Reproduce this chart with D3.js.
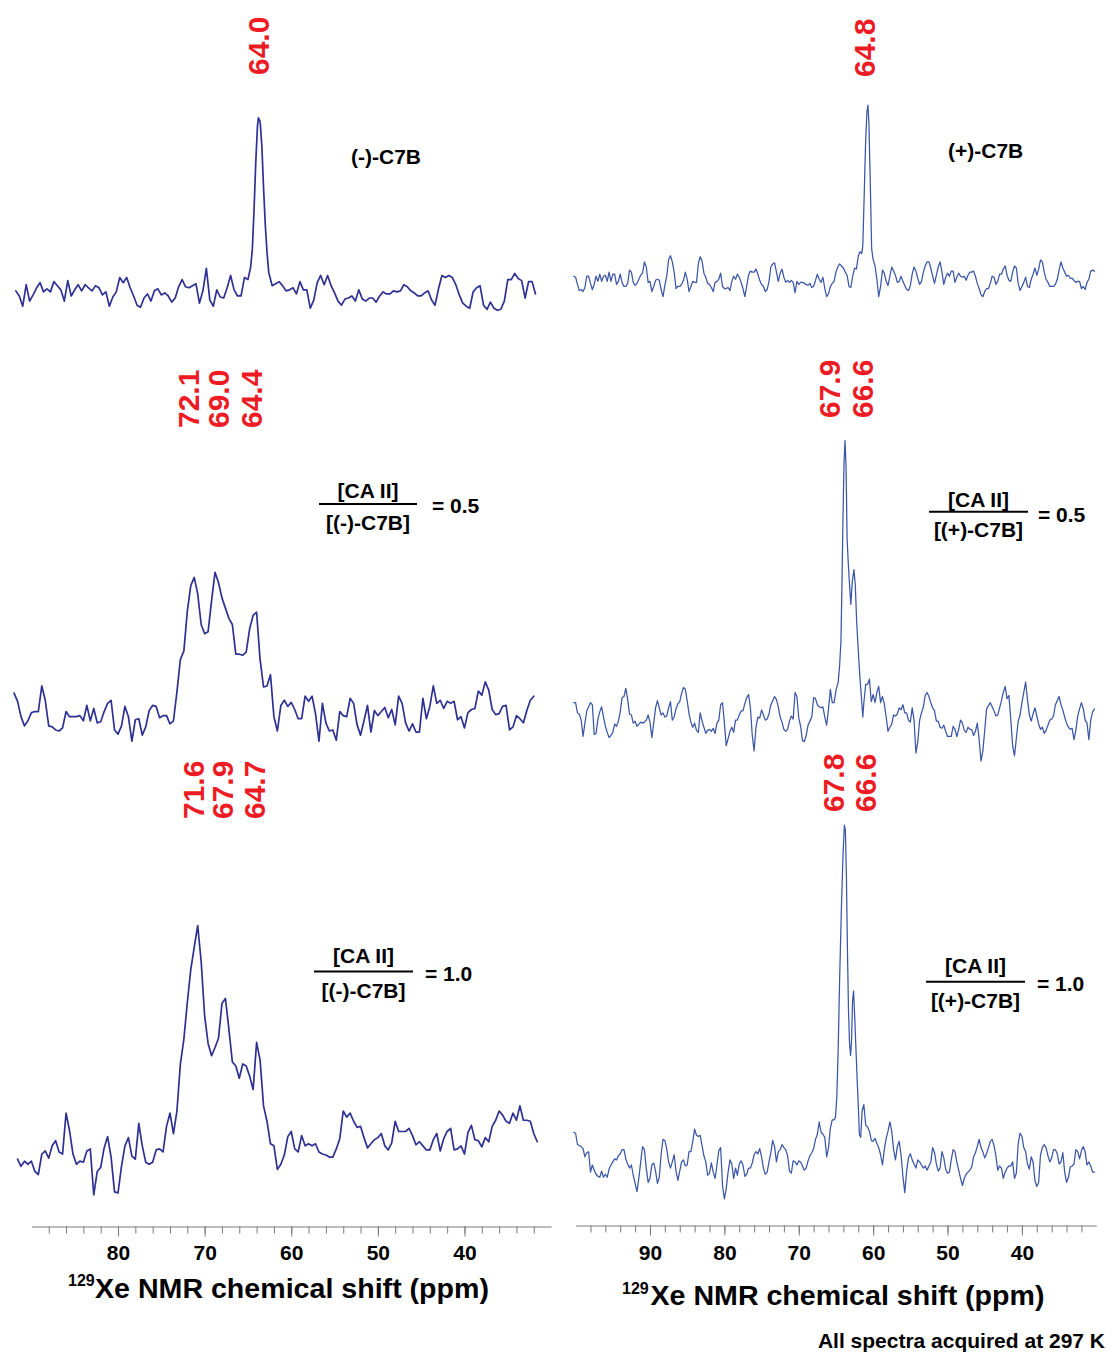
<!DOCTYPE html>
<html>
<head>
<meta charset="utf-8">
<script src="https://cdn.jsdelivr.net/npm/d3@7"></script>
<style>
  html, body { margin: 0; padding: 0; background: #ffffff; }
  svg { display: block; }
  text { font-family: "Liberation Sans", Arial, Helvetica, sans-serif; font-weight: bold; }
</style>
</head>
<body>
<svg id="chart" width="1112" height="1353"></svg>
<script>
// ===================== DATA =====================
// 129Xe NMR spectra, intensity in arbitrary units (0 = noise baseline).
// Each spectrum: regularly sampled points (start ppm, step ppm), optionally a second
// sample set offset by half a step, plus finer samples across the sharp peak.
const N = null;

// (-)-C7B alone
const TL_start = 91.8, TL_step = -0.4;
const TL_values = [2,-3,-13,8,-8,-2,5,10,1,4,
 1,11,7,3,-8,12,-3,3,8,2,
 8,5,2,7,5,-2,1,-13,-4,1,
 15,10,15,5,-3,-12,-14,-5,-1,-8,
 2,4,-2,0,-3,-9,-5,6,13,6,
 5,7,9,-10,2,24,-7,-13,3,-4,
 -5,5,17,3,-3,-3,15,13,N,N,
 N,N,N,N,7,9,11,7,2,3,
 5,-1,11,3,3,-15,-7,10,17,8,
 17,7,0,-8,-12,-6,-5,-3,-8,3,
 -6,-8,-5,-5,-9,-3,1,-1,-1,2,
 1,2,8,6,2,0,-3,-3,0,2,
 -7,-12,4,17,15,17,15,8,-2,-10,
 -13,-15,1,5,7,-12,-16,-9,-15,-17,
 -16,-8,13,13,19,14,12,-5,11,11,
 -1];
const TL_peak = [[64.69,25],[64.49,43],[64.30,80],[64.10,127],[63.90,163],[63.79,171],
 [63.59,167],[63.39,143],[63.20,103],[63.00,67],[62.80,40],[62.60,20]];

// (+)-C7B alone
const TR_start = 100.25, TR_step = -0.5;
const TR_values = [3,-5,-10,-8,3,-10,3,5,3,-2,
 -2,5,-2,-3,-7,9,-3,-4,4,17,
 -3,-12,-1,-1,-17,3,23,7,-7,-5,
 7,-12,-2,-3,22,6,-4,-8,-3,0,
 -7,-9,-11,3,5,-3,-17,4,7,10,
 -1,-7,-10,12,16,-2,10,-3,-3,-3,
 -2,-3,-4,-6,-8,-1,0,2,-17,-7,
 -2,12,13,7,-7,3,10,N,N,N,
 N,13,-17,9,-2,3,8,-3,3,-6,
 -11,5,8,-5,7,17,11,-4,12,7,
 2,3,8,2,3,3,4,7,3,-9,
 -17,-9,-4,2,-2,5,13,-1,7,11,
 -11,-3,-7,0,11,10,17,0,-7,-7,
 0,17,7,4,1,-3,-2,-7,-3,8,
 8];
const TR_start2 = 100.0;
const TR_values2 = [2,-11,-12,3,-4,-5,-2,-2,4,7,
 5,-5,5,-7,-4,7,-6,0,6,12,
 -2,-7,0,-10,-6,19,17,-9,-7,-1,
 0,-7,-3,15,18,2,-5,-12,-2,6,
 -9,-8,-2,0,2,-9,-7,8,7,5,
 -5,-12,-2,15,7,6,2,-1,-1,-13,
 -5,-3,-5,-4,-7,5,-3,-9,-14,-4,
 7,15,11,4,-8,11,N,N,N,N,
 N,0,-7,6,-6,12,4,-2,-2,-10,
 -6,12,1,-2,13,17,3,4,17,-5,
 6,8,-3,6,2,-1,7,8,-4,-15,
 -12,-9,3,-5,5,10,4,-2,13,-4,
 -7,2,-8,5,4,19,7,-3,-7,-5,
 9,11,3,1,-1,-2,-9,-10,0,9];
const TR_peak = [[61.99,23],[61.76,27],[61.53,25],[61.39,33],[61.21,80],[61.03,130],[60.84,163],
 [60.70,170],[60.57,153],[60.39,97],[60.20,30],[60.02,20],[59.83,15]];

// [CA II]/[(-)-C7B] = 0.5
const ML_start = 92.0, ML_step = -0.4;
const ML_values = [20,12,-3,-12,-7,1,2,2,27,13,
 -12,-13,-16,-17,-14,2,-3,-3,-3,-2,
 -7,8,-7,5,-9,-8,2,10,13,-16,
 -20,-12,7,-3,-27,-6,-5,-21,-13,3,
 8,7,-4,-2,-2,-10,-7,21,53,61,
 100,125,133,117,87,78,80,110,138,128,
 113,103,93,87,58,58,57,60,83,96,
 99,53,26,27,38,-3,-17,8,13,7,
 11,4,-5,-5,17,12,17,0,-27,10,
 -9,-17,-16,-26,2,-2,-3,15,10,-11,
 -21,-7,8,-18,3,-2,2,6,-4,4,
 -11,17,10,-9,-17,-10,-18,-18,15,-5,
 7,27,10,13,5,12,10,12,-6,-3,
 -14,1,4,5,22,18,31,23,4,-1,
 0,7,8,-16,-13,-2,-5,-9,3,13,
 17];

// [CA II]/[(+)-C7B] = 0.5
const MR_start = 100.25, MR_step = -0.5;
const MR_values = [17,7,0,-3,13,15,-13,8,3,-12,
 -15,-4,-1,22,31,6,-3,-6,-2,-2,
 5,-17,12,12,7,4,18,3,16,26,
 30,6,-7,-10,7,-7,-10,-11,-13,0,
 17,-25,-11,-12,0,9,16,25,-15,-7,
 2,5,1,15,23,13,-2,-11,-1,1,
 23,-6,-21,-5,3,21,13,13,-5,30,
 17,N,N,N,N,N,N,N,17,35,
 18,17,33,23,3,-7,5,6,10,7,
 0,12,-32,0,13,27,17,9,-1,-8,
 -11,-16,-6,-16,0,-10,-7,-9,-11,-19,
 -30,11,17,9,5,19,33,24,-25,-18,
 5,27,20,-1,12,-4,-7,-10,0,4,
 19,15,3,-7,-8,-10,11,11,-3,0,
 11];
const MR_start2 = 100.0;
const MR_values2 = [17,6,-16,9,17,-14,1,13,-6,-17,
 -12,-6,8,23,20,5,-1,-4,-3,0,
 -2,-3,19,5,3,12,0,11,18,32,
 19,-2,-3,-12,-1,-13,-9,-8,-3,15,
 -3,-18,-7,0,5,9,22,12,-30,3,
 10,0,6,19,20,3,-9,-9,4,27,
 2,-20,-15,-1,22,15,12,3,11,17,
 N,N,N,N,N,N,N,N,35,40,
 25,27,17,16,-11,-4,4,12,15,7,
 -2,0,-21,7,24,23,12,-1,-7,-5,
 -16,-16,-9,-9,-3,-12,-9,-15,-3,-40,
 -10,14,13,4,12,27,21,1,-35,-1,
 17,37,5,6,4,-9,-13,-5,1,15,
 23,10,-3,-9,-19,4,17,0,-19,8];
const MR_peak = [[64.97,30],[64.70,37],[64.51,53],[64.33,77],[64.19,133],[64.05,200],[63.91,253],
 [63.78,273],[63.64,247],[63.50,177],[63.32,150],[63.13,127],[63.00,113],[62.81,135],[62.58,147],
 [62.40,132],[62.22,97],[61.99,67],[61.76,40],[61.53,17],[61.39,3]];

// [CA II]/[(-)-C7B] = 1.0
const BL_start = 91.6, BL_step = -0.4;
const BL_values = [-10,-17,-12,-15,-12,-22,-25,-5,-2,-9,
 3,8,-3,-5,35,18,-5,-15,-12,-13,
 -2,0,-45,-22,-18,1,12,-8,-42,-43,
 -17,3,11,-7,-10,25,3,-13,-15,-13,
 -1,0,-3,22,35,15,37,83,107,143,
 175,197,218,183,130,103,91,99,108,142,
 147,117,85,81,69,83,81,71,58,104,
 87,42,27,5,3,-20,-15,-6,12,17,
 0,-3,13,3,5,3,5,-3,-5,-6,
 -8,-8,0,10,37,31,35,27,21,22,
 11,1,5,9,11,15,3,-1,6,27,
 17,17,17,20,13,4,7,3,-1,-1,
 9,15,-2,10,17,20,-1,0,3,-5,
 16,23,9,8,2,11,7,22,28,37,
 33,27,25,35,28,42,28,28,27,15,
 7];

// [CA II]/[(+)-C7B] = 1.0
const BR_start = 100.25, BR_step = -0.5;
const BR_values = [32,20,18,8,13,0,-9,-12,-12,-12,
 0,6,9,15,6,-3,-10,-26,3,15,
 -17,0,-6,-12,25,16,-3,10,-15,3,
 -1,13,23,29,29,9,-10,2,-13,14,
 -20,-23,5,-13,-10,4,-11,-3,2,13,
 16,-3,-7,12,18,13,20,15,-6,4,
 0,3,-5,4,12,25,42,30,8,36,
 44,N,N,N,N,N,N,N,59,37,
 24,26,17,0,26,42,15,18,10,-27,
 7,5,-3,3,-3,-5,3,12,-6,13,
 -4,-7,15,3,-13,-13,-7,-2,12,25,
 13,11,23,19,-5,-3,-7,-1,3,-8,
 31,17,1,8,-15,-17,17,17,3,15,
 11,3,-7,-12,-1,15,6,18,0,-1,
 -7];
const BR_start2 = 100.0;
const BR_values2 = [31,19,16,12,-7,-5,-11,-6,-9,-4,
 3,5,11,15,1,0,-18,-13,18,-3,
 -13,2,-18,11,24,3,3,-6,-6,5,
 0,13,35,28,19,3,-8,-7,0,17,
 -33,-7,1,-3,1,0,-9,-3,10,11,
 8,-9,3,24,3,15,17,9,-8,3,
 4,-1,-3,9,16,30,32,27,17,44,
 N,N,N,N,N,N,N,N,39,33,
 23,21,10,15,33,33,5,23,-11,-6,
 11,1,5,0,-1,-1,17,1,-3,7,
 -8,5,13,-5,-20,-9,-5,8,18,17,
 7,17,25,9,-1,-13,-3,-1,-13,21,
 28,13,-4,3,-21,10,20,9,7,15,
 1,12,-17,-2,1,13,14,13,3,-7];
const BR_peak = [[65.06,47],[64.88,67],[64.70,113],[64.51,180],[64.28,247],[64.05,303],[63.87,332],
 [63.73,327],[63.59,280],[63.46,213],[63.32,153],[63.18,120],[63.04,107],[62.91,120],[62.77,160],
 [62.63,170],[62.49,147],[62.31,113],[62.13,80],[61.99,57],[61.85,30],[61.67,27],[61.48,53]];

// Peak-position labels (ppm)
const TL_labels = ["64.0"];
const TR_labels = ["64.8"];
const ML_labels = ["72.1", "69.0", "64.4"];
const MR_labels = ["67.9", "66.6"];
const BL_labels = ["71.6", "67.9", "64.7"];
const BR_labels = ["67.8", "66.6"];

// Axis ticks
const leftMajorTicks = [80, 70, 60, 50, 40];
const rightMajorTicks = [90, 80, 70, 60, 50, 40];
const leftMinorTicks = [88,86,84,82,80,78,76,74,72,70,68,66,64,62,60,58,56,54,52,50,48,46,44,42,40,38,36,34,32];
const rightMinorTicks = [98,96,94,92,90,88,86,84,82,80,78,76,74,72,70,68,66,64,62,60,58,56,54,52,50,48,46,44,42,40,38,36,34,32];

// Texts
const sampleNames = ["(-)-C7B", "(+)-C7B"];
const ratioNumerator = "[CA II]";
const ratioDenominators = ["[(-)-C7B]", "[(+)-C7B]"];
const ratioValues = ["= 0.5", "= 1.0"];
const axisTitleSup = "129";
const axisTitleMain = "Xe NMR chemical shift (ppm)";
const footnote = "All spectra acquired at 297 K";

// ===================== DRAWING =====================
const svg = d3.select("#chart");
svg.append("rect").attr("width", 1112).attr("height", 1353).attr("fill", "#ffffff");

const xLeft = d3.scaleLinear().domain([90, 30]).range([31.4, 551.1]);
const xRight = d3.scaleLinear().domain([100, 30]).range([575.6, 1096.3]);

function buildSeries(sets, peak) {
  const pts = [];
  sets.forEach(s => s.values.forEach((v, i) => { if (v !== null) pts.push([s.start + s.step * i, v]); }));
  peak.forEach(p => pts.push(p));
  pts.sort((a, b) => b[0] - a[0]);
  return pts;
}

const panels = [
  { x: xLeft,  base: 292.9,  color: "#2E3192", w: 1.7,
    data: buildSeries([{start: TL_start, step: TL_step, values: TL_values}], TL_peak) },
  { x: xRight, base: 279.3,  color: "#3B56A7", w: 1.25,
    data: buildSeries([{start: TR_start, step: TR_step, values: TR_values},
                       {start: TR_start2, step: TR_step, values: TR_values2}], TR_peak) },
  { x: xLeft,  base: 713.6,  color: "#2E3192", w: 1.7,
    data: buildSeries([{start: ML_start, step: ML_step, values: ML_values}], []) },
  { x: xRight, base: 720.1,  color: "#3B56A7", w: 1.25,
    data: buildSeries([{start: MR_start, step: MR_step, values: MR_values},
                       {start: MR_start2, step: MR_step, values: MR_values2}], MR_peak) },
  { x: xLeft,  base: 1148.9, color: "#2E3192", w: 1.7,
    data: buildSeries([{start: BL_start, step: BL_step, values: BL_values}], []) },
  { x: xRight, base: 1165.0, color: "#3B56A7", w: 1.25,
    data: buildSeries([{start: BR_start, step: BR_step, values: BR_values},
                       {start: BR_start2, step: BR_step, values: BR_values2}], BR_peak) }
];

panels.forEach(p => {
  const y = d3.scaleLinear().domain([0, 100]).range([p.base, p.base - 102.4]);
  const line = d3.line().x(d => p.x(d[0])).y(d => y(d[1]));
  svg.append("path").datum(p.data)
    .attr("d", line)
    .attr("fill", "none")
    .attr("stroke", p.color)
    .attr("stroke-width", p.w)
    .attr("stroke-linejoin", "round")
    .attr("stroke-linecap", "round");
});

// ---------- axes ----------
function drawAxis(xs, yPos, minor, major, pad) {
  const gMinor = svg.append("g").attr("transform", `translate(0,${yPos})`)
    .call(d3.axisBottom(xs).tickValues(minor).tickSize(7).tickSizeOuter(0).tickFormat(""));
  gMinor.attr("color", "#7a7a7a");
  gMinor.selectAll("line").attr("stroke-width", 1);
  gMinor.select(".domain").attr("stroke-width", 1.1);
  const gMajor = svg.append("g").attr("transform", `translate(0,${yPos})`)
    .call(d3.axisBottom(xs).tickValues(major).tickSize(10).tickSizeOuter(0).tickPadding(pad).tickFormat(d3.format("d")));
  gMajor.attr("color", "#7a7a7a");
  gMajor.select(".domain").remove();
  gMajor.selectAll("text")
    .attr("fill", "#000")
    .style("font-size", "21px")
    .style("font-weight", "bold")
    .style("font-family", '"Liberation Sans", Arial, Helvetica, sans-serif');
}
drawAxis(xLeft, 1226.5, leftMinorTicks, leftMajorTicks, 8.6);
drawAxis(xRight, 1225.5, rightMinorTicks, rightMajorTicks, 9.6);

// axis titles
function axisTitle(supX, supY, mainX, mainY) {
  svg.append("text").attr("x", supX).attr("y", supY).style("font-size", "16px").attr("fill", "#000").text(axisTitleSup);
  svg.append("text").attr("x", mainX).attr("y", mainY).style("font-size", "27px").attr("fill", "#000")
    .attr("textLength", 394).attr("lengthAdjust", "spacingAndGlyphs").text(axisTitleMain);
}
axisTitle(68, 1286, 95, 1298);
axisTitle(622, 1294, 650.5, 1305);

// footnote
svg.append("text").attr("x", 1105).attr("y", 1348).attr("text-anchor", "end")
  .style("font-size", "21px").attr("fill", "#000").text(footnote);

// ---------- red peak labels (rotated) ----------
function redLabels(texts, xs, bottomY) {
  texts.forEach((t, i) => {
    svg.append("text")
      .attr("transform", `translate(${xs[i]},${bottomY}) rotate(-90)`)
      .attr("text-anchor", "start")
      .attr("dominant-baseline", "central")
      .style("font-size", "30px")
      .attr("fill", "#ED1C24")
      .text(t);
  });
}
redLabels(TL_labels, [258], 75);
redLabels(TR_labels, [864.5], 77);
redLabels(ML_labels, [188, 218, 251], 428);
redLabels(MR_labels, [829, 862], 418);
redLabels(BL_labels, [193.5, 222.5, 254.5], 819);
redLabels(BR_labels, [833.5, 865], 812);

// ---------- sample names ----------
svg.append("text").attr("x", 351).attr("y", 164).style("font-size", "21px").attr("fill", "#000").text(sampleNames[0]);
svg.append("text").attr("x", 948).attr("y", 157.5).style("font-size", "21px").attr("fill", "#000").text(sampleNames[1]);

// ---------- ratio fractions ----------
function fraction(lineX1, lineX2, lineY, numY, denY, den, valX, valY, val) {
  const cx = (lineX1 + lineX2) / 2;
  svg.append("text").attr("x", cx).attr("y", numY).attr("text-anchor", "middle")
    .style("font-size", "21px").attr("fill", "#000").text(ratioNumerator);
  svg.append("line").attr("x1", lineX1).attr("x2", lineX2).attr("y1", lineY).attr("y2", lineY)
    .attr("stroke", "#000").attr("stroke-width", 2);
  svg.append("text").attr("x", cx).attr("y", denY).attr("text-anchor", "middle")
    .style("font-size", "21px").attr("fill", "#000").text(den);
  svg.append("text").attr("x", valX).attr("y", valY)
    .style("font-size", "21px").attr("fill", "#000").text(val);
}
fraction(319, 417, 504, 498, 530, ratioDenominators[0], 432, 513, ratioValues[0]);
fraction(929, 1028, 511.7, 506.7, 536.7, ratioDenominators[1], 1038, 521.7, ratioValues[0]);
fraction(314, 413, 971.4, 963, 998, ratioDenominators[0], 425, 981, ratioValues[1]);
fraction(926, 1025, 981.7, 973, 1008, ratioDenominators[1], 1037, 991, ratioValues[1]);
</script>
</body>
</html>
